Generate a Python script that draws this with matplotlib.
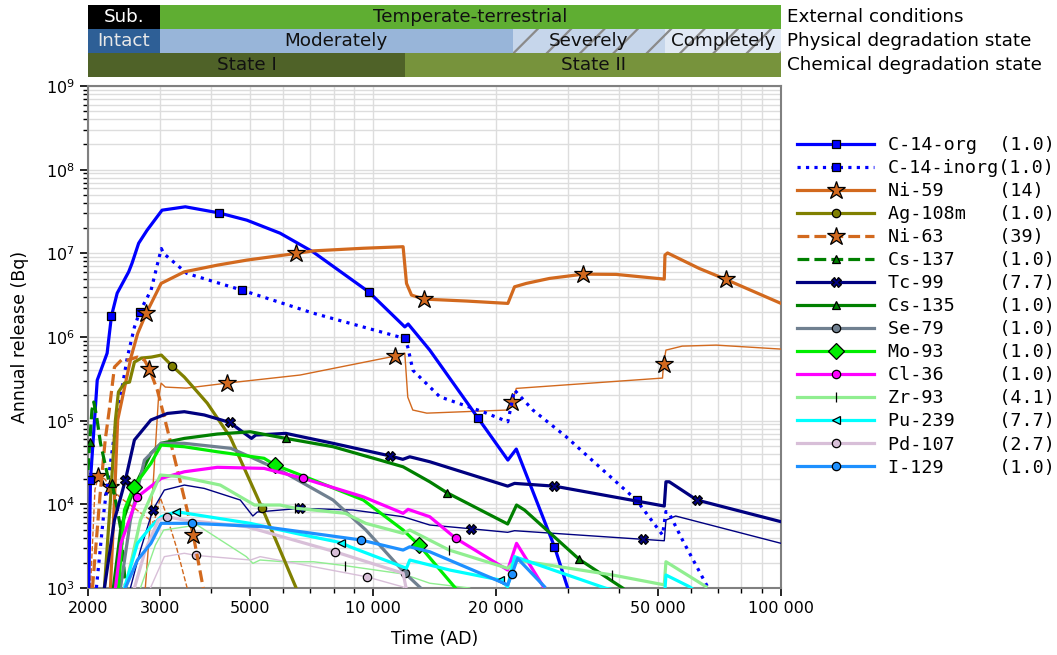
import matplotlib
matplotlib.use("Agg")
import matplotlib.pyplot as plt
from matplotlib.lines import Line2D
from matplotlib.ticker import FixedLocator, FixedFormatter, NullFormatter

# ---------------- release curves: time (AD) and annual release (Bq) ----------------
c14org_t = [2008, 2028, 2107, 2228, 2283, 2358, 2516, 2564, 2662, 2792, 3038, 3464, 4178, 4904, 5916,
            7124, 9750, 11960, 12190, 13770, 18070, 21400, 22440, 27840, 30000]
c14org_r = [1e3, 1.95e4, 3.05e5, 6.4e5, 1.78e6, 3.34e6, 6.0e6, 7.6e6, 1.32e7, 1.89e7, 3.28e7, 3.6e7, 3.05e7,
            2.49e7, 1.74e7, 1.04e7, 3.47e6, 1.32e6, 1.43e6, 6.97e5, 1.08e5, 3.38e4, 4.58e4, 3.11e3, 1e3]
c14org_mk = [1, 4, 12, 16, 20, 23]

c14inorg_t = [2097, 2194, 2348, 2498, 2599, 2678, 2855, 2964, 3026, 3064, 3496, 4768, 7124, 11960, 12160,
              12520, 14570, 18560, 21390, 22220, 24640, 29730, 35860, 44260, 51230, 52230, 53200, 57350, 66010]
c14inorg_r = [1e3, 9.29e3, 1.02e5, 5.75e5, 1.31e6, 2.0e6, 3.63e6, 7.64e6, 1.14e7, 9.98e6, 5.75e6, 3.63e6,
              1.93e6, 9.6e5, 7.6e5, 4.0e5, 1.93e5, 1.28e5, 9.7e4, 2.32e5, 1.34e5, 6.43e4, 2.81e4, 1.12e4,
              4.3e3, 8.2e3, 7.8e3, 3.74e3, 1.04e3]
c14inorg_mk = [5, 11, 13, 23]

ni59_t = [2270, 2322, 2365, 2551, 2647, 2777, 2910, 3022, 3445, 4155, 4903, 6473, 7137, 9460, 11845, 12075,
          12420, 13310, 16930, 21400, 22220, 23740, 27050, 32770, 39420, 51740, 51940, 52710, 63010, 73240,
          100000]
ni59_r = [1e3, 1.13e4, 1.02e5, 5.8e5, 1.1e6, 1.91e6, 3.02e6, 4.37e6, 6.01e6, 7.23e6, 8.3e6, 9.97e6, 1.07e7,
          1.15e7, 1.2e7, 4.37e6, 3.17e6, 2.84e6, 2.69e6, 2.52e6, 3.98e6, 4.37e6, 5.01e6, 5.64e6, 5.6e6,
          4.92e6, 9.53e6, 1.01e7, 6.6e6, 4.88e6, 2.52e6]
ni59_mk = [5, 11, 17, 23, 29]

ni59b_t = [2764, 2893, 2975, 3022, 3094, 3483, 4383, 6620, 11304, 11958, 12162, 12510, 13540, 21362, 21937,
           22438, 51230, 51520, 52230, 57257, 69350, 100000]
ni59b_r = [1e3, 1.95e4, 1.76e5, 2.81e5, 2.52e5, 2.45e5, 2.81e5, 3.51e5, 5.91e5, 6.42e5, 1.91e5, 1.34e5,
           1.23e5, 1.34e5, 1.68e5, 2.43e5, 3.23e5, 4.75e5, 6.97e5, 7.78e5, 8.0e5, 7.17e5]
ni59b_mk = [6, 8, 14, 17]

ag108m_t = [2194, 2270, 2335, 2375, 2457, 2528, 2599, 2704, 2860, 3026, 3219, 3445, 3921, 4464, 5345, 5914, 6508]
ag108m_r = [1e3, 1.13e4, 1.02e5, 2.2e5, 2.81e5, 2.89e5, 5.01e5, 5.6e5, 5.75e5, 6.08e5, 4.49e5, 3.32e5,
            1.62e5, 6.37e4, 9.03e3, 2.84e3, 946]
ag108m_mk = [10, 14]

ni63_t = [2051, 2146, 2204, 2255, 2322, 2415, 2498, 2644, 2750, 2829, 2958, 3077, 3237, 3623, 3833]
ni63_r = [1e3, 1.48e4, 5.87e4, 1.34e5, 4.37e5, 5.3e5, 5.3e5, 5.75e5, 5.3e5, 4.13e5, 2.32e5, 1.1e5, 4.1e4,
          4.3e3, 1e3]
ni63_mk = [9, 13]

ni63b_t = [2028, 2080, 2122, 2200, 2270, 2400, 2600, 2900, 3008, 3100, 3300, 3500]
ni63b_r = [1e3, 1.5e4, 2.2e4, 2.0e4, 1.6e4, 1.2e4, 9e3, 6e3, 1.2e4, 8e3, 3e3, 1e3]
ni63b_mk = [2, 4]

cs137_t = [2000, 2020, 2045, 2066, 2097, 2146, 2246, 2292, 2348, 2402, 2471, 2485]
cs137_r = [2.57e4, 5.6e4, 1.34e5, 1.67e5, 1.17e5, 5.4e4, 1.95e4, 1.8e4, 9.81e3, 5.36e3, 1.06e3, 946]
cs137_mk = [1, 7]

tc99_t = [2194, 2322, 2470, 2599, 2853, 3131, 3445, 3855, 4448, 5032, 5156, 6110, 7976, 11030, 11825, 12300,
          13767, 21375, 22220, 27817, 51740, 52230, 53217, 62200, 100000]
tc99_r = [1e3, 6.49e3, 1.95e4, 5.87e4, 1.02e5, 1.22e5, 1.28e5, 1.17e5, 9.54e4, 6.14e4, 6.73e4, 7.05e4,
          5.36e4, 3.78e4, 3.45e4, 3.7e4, 3.23e4, 1.65e4, 1.78e4, 1.65e4, 9.54e3, 1.86e4, 1.86e4, 1.126e4, 6.2e3]
tc99_mk = [2, 8, 13, 19, 23]

tc99b_t = [2541, 2689, 2883, 3077, 3445, 3855, 4725, 5072, 5200, 6620, 8934, 11845, 13767, 17340, 21375,
           22220, 45810, 51740, 52230, 55180, 100000]
tc99b_r = [1e3, 2.84e3, 8.55e3, 1.48e4, 1.7e4, 1.55e4, 1.126e4, 7.25e3, 8.09e3, 8.96e3, 8.55e3, 7.11e3,
           5.66e3, 5.11e3, 4.63e3, 4.84e3, 3.82e3, 3.67e3, 6.49e3, 7.25e3, 3.42e3]
tc99b_mk = [2, 9, 13, 16]

cs135_t = [2308, 2410, 2599, 2853, 3022, 3445, 4148, 4998, 6110, 7976, 10389, 11845, 13767, 15160, 21375,
           22473, 23508, 32017, 40900]
cs135_r = [1e3, 5.4e3, 1.62e4, 4.07e4, 5.36e4, 6.14e4, 6.92e4, 7.37e4, 6.14e4, 4.88e4, 3.38e4, 2.81e4,
           1.86e4, 1.38e4, 5.82e3, 9.81e3, 8.55e3, 2.2e3, 1e3]
cs135_mk = [8, 13, 17]

se79_t = [2402, 2541, 2750, 3022, 3445, 4480, 4995, 6014, 7976, 9600, 11958, 13240]
se79_r = [1e3, 6.49e3, 3.38e4, 5.36e4, 5.36e4, 4.67e4, 3.7e4, 2.45e4, 1.126e4, 4.93e3, 1.51e3, 946]
se79_mk = [10]

mo93_t = [2375, 2457, 2589, 2853, 3022, 3445, 4148, 5404, 5750, 7137, 9460, 11845, 12955, 16298]
mo93_r = [1e3, 8.55e3, 1.62e4, 3.09e4, 5.11e4, 4.88e4, 4.25e4, 3.55e4, 2.95e4, 1.95e4, 1.126e4, 4.93e3,
          3.26e3, 871]
mo93_mk = [2, 8, 12]

cl36_t = [2335, 2410, 2644, 3022, 3445, 4148, 5404, 6744, 9460, 11845, 12185, 13767, 15935, 21375, 22473, 26300]
cl36_r = [1e3, 3.45e3, 1.23e4, 2.04e4, 2.45e4, 2.77e4, 2.69e4, 2.04e4, 1.23e4, 7.81e3, 8.71e3, 7.11e3,
          3.93e3, 1.64e3, 3.42e3, 992]
cl36_mk = [2, 7, 12]

zr93_t = [2470, 2689, 3008, 3368, 4219, 5120, 5914, 6440, 8540, 9590, 11845, 12300, 15370, 21375, 22473,
          38620, 51740, 52230, 65470]
zr93_r = [1e3, 6.49e3, 2.24e4, 2.14e4, 1.7e4, 9.81e3, 9.81e3, 9.0e3, 7.81e3, 5.93e3, 4.5e3, 4.93e3, 2.84e3,
          1.72e3, 2.16e3, 1.43e3, 1.09e3, 2.06e3, 1.04e3]
zr93_mk = [7, 12, 15]

zr93b_t = [2689, 2926, 3066, 3704, 4889, 5074, 5284, 6025, 7137, 8530, 11845, 13767, 17241]
zr93b_r = [1e3, 3.26e3, 4.93e3, 5.66e3, 2.37e3, 1.97e3, 2.16e3, 2.06e3, 2.06e3, 1.85e3, 1.47e3, 1.14e3, 1e3]
zr93b_mk = [9]

pu239_t = [2457, 2644, 2853, 3022, 3294, 4995, 6600, 8344, 8773, 12070, 12300, 15405, 20420, 21375, 22220,
           37230, 51740, 52230, 59554, 66530]
pu239_r = [1e3, 3.42e3, 5.4e3, 7.11e3, 8.16e3, 5.93e3, 4.4e3, 3.48e3, 3.11e3, 1.72e3, 2.16e3, 1.64e3,
           1.25e3, 1.04e3, 2.37e3, 992, 719, 1.43e3, 1.04e3, 719]
pu239_mk = [4, 7, 12]

pd107_t = [2599, 2764, 2975, 3122, 3445, 4903, 8063, 11845, 12075]
pd107_r = [1e3, 2.84e3, 6.49e3, 7.11e3, 6.49e3, 5.4e3, 2.71e3, 1.5e3, 946]
pd107_mk = [3, 6]

pd107b_t = [2845, 3077, 3445, 3687, 5005, 5284, 9646, 11845, 12300]
pd107b_r = [1e3, 2.37e3, 2.6e3, 2.45e3, 2.16e3, 2.37e3, 1.36e3, 1.03e3, 825]
pd107b_mk = [3, 6]

i129_t = [2470, 2644, 2853, 3022, 3598, 5404, 9335, 11845, 12300, 13767, 21375, 21910, 22600, 26300]
i129_r = [1e3, 2.16e3, 3.42e3, 5.93e3, 5.93e3, 5.4e3, 3.75e3, 2.84e3, 3.11e3, 2.71e3, 1.09e3, 1.47e3,
          2.26e3, 1.04e3]
i129_mk = [4, 6, 11]

# legend entries: nuclide, factor shown in brackets
nuclides = ["C-14-org", "C-14-inorg", "Ni-59", "Ag-108m", "Ni-63", "Cs-137", "Tc-99", "Cs-135", "Se-79",
            "Mo-93", "Cl-36", "Zr-93", "Pu-239", "Pd-107", "I-129"]
factors = ["1.0", "1.0", "14", "1.0", "39", "1.0", "7.7", "1.0", "1.0", "1.0", "1.0", "4.1", "7.7", "2.7", "1.0"]

# ---------------- repository evolution bars ----------------
ext_bounds = [2000, 3000, 100000]
ext_labels = ["Sub.", "Temperate-terrestrial"]
phys_bounds = [2000, 3000, 22000, 52000, 100000]
phys_labels = ["Intact", "Moderately", "Severely", "Completely"]
chem_bounds = [2000, 12000, 100000]
chem_labels = ["State I", "State II"]
row_titles = ["External conditions", "Physical degradation state", "Chemical degradation state"]

x_major = [2000, 3000, 5000, 10000, 20000, 50000, 100000]
x_major_labels = ["2000", "3000", "5000", "10 000", "20 000", "50 000", "100 000"]
x_minor = [4000, 6000, 7000, 8000, 9000, 30000, 40000, 60000, 70000, 80000, 90000]
y_exponents = [3, 4, 5, 6, 7, 8, 9]

# ---------------- styles ----------------
ORANGE = "#d2691e"
style = {
    "C-14-org":   dict(color="#0000ff", ls="-", marker="s", ms=6),
    "C-14-inorg": dict(color="#0000ff", ls=":", marker="s", ms=6),
    "Ni-59":      dict(color=ORANGE, ls="-", marker="*", ms=13.5),
    "Ag-108m":    dict(color="#808000", ls="-", marker="o", ms=6),
    "Ni-63":      dict(color=ORANGE, ls="--", marker="*", ms=13.5),
    "Cs-137":     dict(color="#008000", ls="--", marker="^", ms=6),
    "Tc-99":      dict(color="#000080", ls="-", marker="X", ms=6.5),
    "Cs-135":     dict(color="#008000", ls="-", marker="^", ms=6),
    "Se-79":      dict(color="#708090", ls="-", marker="o", ms=6),
    "Mo-93":      dict(color="#00ee00", ls="-", marker="D", ms=8.5),
    "Cl-36":      dict(color="#ff00ff", ls="-", marker="o", ms=6),
    "Zr-93":      dict(color="#90ee90", ls="-", marker="|", ms=7),
    "Pu-239":     dict(color="#00ffff", ls="-", marker="<", ms=6),
    "Pd-107":     dict(color="#d8bfd8", ls="-", marker="o", ms=6),
    "I-129":      dict(color="#1e90ff", ls="-", marker="o", ms=6),
}

thick = [
    ("C-14-org", c14org_t, c14org_r, c14org_mk),
    ("C-14-inorg", c14inorg_t, c14inorg_r, c14inorg_mk),
    ("Ni-59", ni59_t, ni59_r, ni59_mk),
    ("Ag-108m", ag108m_t, ag108m_r, ag108m_mk),
    ("Ni-63", ni63_t, ni63_r, ni63_mk),
    ("Cs-137", cs137_t, cs137_r, cs137_mk),
    ("Tc-99", tc99_t, tc99_r, tc99_mk),
    ("Cs-135", cs135_t, cs135_r, cs135_mk),
    ("Se-79", se79_t, se79_r, se79_mk),
    ("Mo-93", mo93_t, mo93_r, mo93_mk),
    ("Cl-36", cl36_t, cl36_r, cl36_mk),
    ("Zr-93", zr93_t, zr93_r, zr93_mk),
    ("Pu-239", pu239_t, pu239_r, pu239_mk),
    ("Pd-107", pd107_t, pd107_r, pd107_mk),
    ("I-129", i129_t, i129_r, i129_mk),
]
thin = [
    ("Ni-59", ni59b_t, ni59b_r, ni59b_mk),
    ("Ni-63", ni63b_t, ni63b_r, ni63b_mk),
    ("Tc-99", tc99b_t, tc99b_r, tc99b_mk),
    ("Zr-93", zr93b_t, zr93b_r, zr93b_mk),
    ("Pd-107", pd107b_t, pd107b_r, pd107b_mk),
]

plt.rcParams["hatch.linewidth"] = 1.6

W, H = 1057, 655
fig = plt.figure(figsize=(W / 100, H / 100), dpi=100)

ax = fig.add_axes([88 / W, 1 - 588 / H, 693 / W, 502 / H])
ax.set_xscale("log")
ax.set_yscale("log")
ax.set_xlim(2000, 100000)
ax.set_ylim(1e3, 1e9)

THICK_LW, THIN_LW = 2.3, 1.0
for name, t, r, mk in thin:
    s = style[name]
    ax.plot(t, r, color=s["color"], ls=s["ls"], lw=THIN_LW, marker=s["marker"], ms=s["ms"],
            markevery=mk, mfc=s["color"], mec="black", mew=0.9, zorder=3)
for name, t, r, mk in thick:
    s = style[name]
    ax.plot(t, r, color=s["color"], ls=s["ls"], lw=THICK_LW, marker=s["marker"], ms=s["ms"],
            markevery=mk, mfc=s["color"], mec="black", mew=0.9, zorder=4)

ax.xaxis.set_major_locator(FixedLocator(x_major))
ax.xaxis.set_major_formatter(FixedFormatter(x_major_labels))
ax.xaxis.set_minor_locator(FixedLocator(x_minor))
ax.xaxis.set_minor_formatter(NullFormatter())
ax.yaxis.set_major_locator(FixedLocator([10.0 ** e for e in y_exponents]))
ax.yaxis.set_major_formatter(FixedFormatter([f"$10^{{{e}}}$" for e in y_exponents]))
ax.yaxis.set_minor_locator(FixedLocator([m * 10.0 ** e for e in y_exponents[:-1] for m in range(2, 10)]))
ax.yaxis.set_minor_formatter(NullFormatter())
ax.grid(True, which="both", color="#dddddd", lw=1.0)
ax.set_axisbelow(True)
ax.tick_params(which="both", labelsize=11.5, direction="out")
ax.tick_params(which="major", length=6, width=1.2)
ax.tick_params(which="minor", length=3.5, width=1.0)
for sp in ax.spines.values():
    sp.set_color("#808080")
    sp.set_linewidth(1.5)
ax.set_xlabel("Time (AD)", fontsize=12.5, labelpad=10)
ax.set_ylabel("Annual release (Bq)", fontsize=12.5, labelpad=12)

# legend
handles = []
labels = []
for name, fac in zip(nuclides, factors):
    s = style[name]
    handles.append(Line2D([], [], color=s["color"], ls=s["ls"], lw=THICK_LW, marker=s["marker"],
                          ms=s["ms"], mfc=s["color"], mec="black", mew=0.9))
    labels.append(f"{name:<10}({fac})")
fig.legend(handles, labels, loc="upper left", bbox_to_anchor=(797 / W, 1 - 136 / H), frameon=False,
           prop={"family": "DejaVu Sans Mono", "size": 13.2}, handlelength=4.2, handletextpad=0.75,
           labelspacing=0.275, borderpad=0, borderaxespad=0, numpoints=1)

# evolution bars above the plot
bx = fig.add_axes([88 / W, 1 - 77 / H, 693 / W, 72 / H])
bx.set_xscale("log")
bx.set_xlim(2000, 100000)
bx.set_ylim(0, 3)
bx.axis("off")

rows = [
    (2, ext_bounds, ext_labels, ["#000000", "#5fae32"], [None, None], ["white", "#111111"]),
    (1, phys_bounds, phys_labels, ["#2e5f96", "#98b5d9", "#c6d6eb", "#e1e9f4"], [None, None, "/", "/"],
     ["#e8e8e8", "#111111", "#111111", "#111111"]),
    (0, chem_bounds, chem_labels, ["#4f6228", "#77933c"], [None, None], ["#111111", "#111111"]),
]
for y0, bounds, labs, cols, hatches, tcols in rows:
    for i, lab in enumerate(labs):
        a, b = bounds[i], bounds[i + 1]
        bx.barh(y0 + 0.5, b - a, left=a, height=1.0, color=cols[i], hatch=hatches[i],
                edgecolor="#8a8a8a" if hatches[i] else cols[i], linewidth=0)
        bx.text((a * b) ** 0.5, y0 + 0.5, lab, ha="center", va="center", fontsize=13.2, color=tcols[i])
for k, title in enumerate(row_titles):
    fig.text(787 / W, 1 - (17 + 24 * k) / H, title, ha="left", va="center", fontsize=13.2)

fig.savefig("out.png", dpi=100)
